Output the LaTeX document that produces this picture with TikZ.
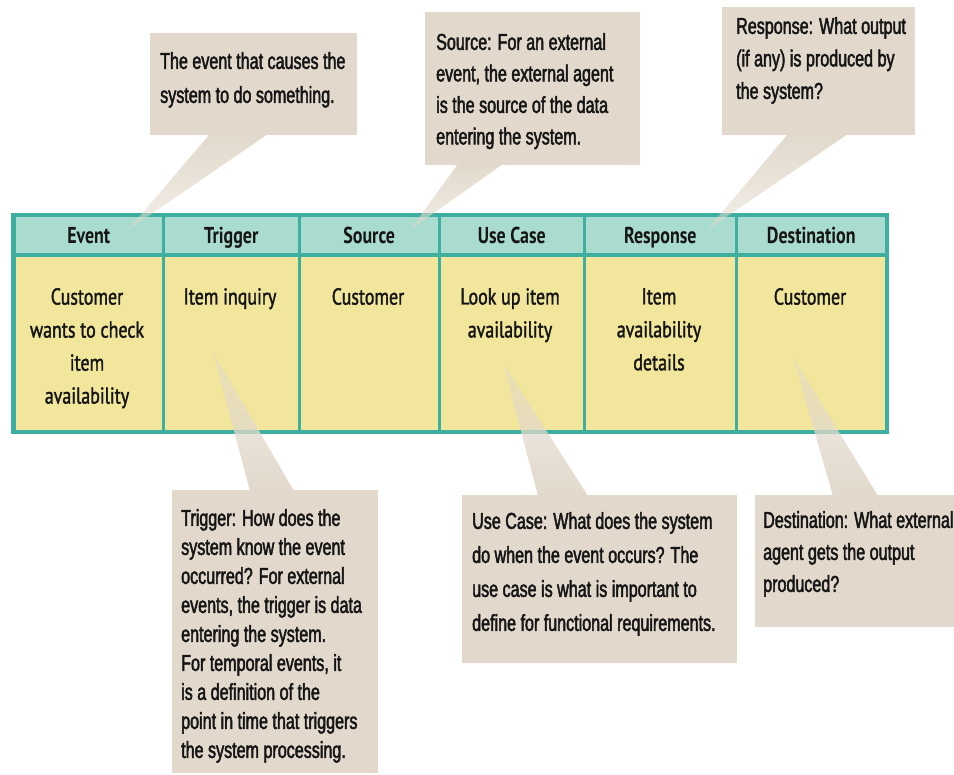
\documentclass[tikz,border=0pt]{standalone}
\usepackage{fontspec}
\setmainfont{Liberation Sans}
\newfontfamily\notefont[FakeStretch=0.70, FakeBold=2]{Liberation Sans}
\newfontfamily\cellfont[FakeStretch=0.78, FakeBold=1.5]{PT Sans}
\newfontfamily\headfont[FakeStretch=0.78]{PT Sans}
\usetikzlibrary{fadings}

\definecolor{notebg}{HTML}{E2D9CC}
\definecolor{headbg}{HTML}{A9DCCF}
\definecolor{rulecol}{HTML}{3DAE9F}
\definecolor{bodybg}{HTML}{F1E69C}
\definecolor{ink}{HTML}{151515}

\tikzfading[name=fadedown, top color=transparent!0, bottom color=transparent!55]
\tikzfading[name=fadeup, top color=transparent!55, bottom color=transparent!0]

\tikzset{
  notebox/.style={fill=notebg, inner sep=0pt, anchor=north west},
  notetext/.style={font=\notefont\fontsize{23}{#1}\selectfont, align=left,
    anchor=north west, inner sep=0pt, text=ink},
  headcell/.style={fill=headbg, draw=rulecol, line width=2.5pt, inner sep=0pt,
    anchor=north west, minimum height=38pt, text height=19pt, text depth=2pt,
    font=\headfont\bfseries\fontsize{23}{28}\selectfont, text=ink},
  bodycell/.style={fill=bodybg, draw=rulecol, line width=2.5pt, inner sep=0pt,
    anchor=north west, minimum height=177pt},
  celltext/.style={font=\cellfont\fontsize{23}{33}\selectfont, align=center,
    anchor=north, inner sep=0pt, text=ink},
  tailup/.style={fill=notebg, path fading=fadedown},
  taildown/.style={fill=notebg, path fading=fadeup},
}

\begin{document}
\begin{tikzpicture}[x=1pt, y=-1pt]
\useasboundingbox (0,0) rectangle (954,775);

% ---- the event table ----
\node[headcell, minimum width=149pt] (h1) at (13,215) {Event};
\node[headcell, minimum width=136pt] (h2) at (162,215) {Trigger};
\node[headcell, minimum width=140pt] (h3) at (298,215) {Source};
\node[headcell, minimum width=145pt] (h4) at (438,215) {Use Case};
\node[headcell, minimum width=152pt] (h5) at (583,215) {Response};
\node[headcell, minimum width=150pt] (h6) at (735,215) {Destination};

\node[bodycell, minimum width=149pt] (b1) at (13,253) {};
\node[bodycell, minimum width=136pt] (b2) at (162,253) {};
\node[bodycell, minimum width=140pt] (b3) at (298,253) {};
\node[bodycell, minimum width=145pt] (b4) at (438,253) {};
\node[bodycell, minimum width=152pt] (b5) at (583,253) {};
\node[bodycell, minimum width=150pt] (b6) at (735,253) {};

\draw[rulecol, line width=3.5pt] (h1.north west) rectangle (b6.south east);
\draw[rulecol, line width=3.5pt] (h1.south west) -- (h6.south east);

\node[celltext] (t1) at (87,288) {Customer\\wants to check\\item\\availability};
\node[celltext] (t2) at (230,288) {Item inquiry};
\node[celltext] (t3) at (368,288) {Customer};
\node[celltext] (t4) at (510,288) {Look up item\\availability};
\node[celltext] (t5) at (659,288) {Item\\availability\\details};
\node[celltext] (t6) at (810,288) {Customer};

% ---- tips of the callout tails ----
\coordinate (tipEvent) at (128,230);
\coordinate (tipSource) at (410,230);
\coordinate (tipResponse) at (707,230);
\coordinate (tipTrigger) at (213,352);
\coordinate (tipUseCase) at (503,363);
\coordinate (tipDest) at (793,357);

% ---- tails ----
\fill[tailup] (210,134) -- (268,134) -- (tipEvent) -- cycle;
\fill[tailup] (458,164) -- (503,164) -- (tipSource) -- cycle;
\fill[tailup] (788,134) -- (848,134) -- (tipResponse) -- cycle;
\fill[taildown] (tipTrigger) -- (250,491) -- (294,491) -- cycle;
\fill[taildown] (tipUseCase) -- (538,496) -- (588,496) -- cycle;
\fill[taildown] (tipDest) -- (833,496) -- (878,496) -- cycle;

% ---- callout boxes ----
\node[notebox, minimum width=207pt, minimum height=102pt] (nEvent) at (150,33) {};
\node[notebox, minimum width=215pt, minimum height=153pt] (nSource) at (425,12) {};
\node[notebox, minimum width=193pt, minimum height=128pt] (nResponse) at (722,7) {};
\node[notebox, minimum width=206pt, minimum height=283pt] (nTrigger) at (172,490) {};
\node[notebox, minimum width=275pt, minimum height=168pt] (nUseCase) at (462,495) {};
\node[notebox, minimum width=199pt, minimum height=132pt] (nDest) at (755,495) {};

% ---- callout texts ----
\node[notetext=34] (xEvent) at (160,52) {The event that causes the\\system to do something.};
\node[notetext=31.5] (xSource) at (436,33) {Source: For an external\\event, the external agent\\is the source of the data\\entering the system.};
\node[notetext=32.5] (xResponse) at (736,17) {Response: What output\\(if any) is produced by\\the system?};
\node[notetext=29] (xTrigger) at (181,509) {Trigger: How does the\\system know the event\\occurred? For external\\events, the trigger is data\\entering the system.\\For temporal events, it\\is a definition of the\\point in time that triggers\\the system processing.};
\node[notetext=34] (xUseCase) at (472,512) {Use Case: What does the system\\do when the event occurs? The\\use case is what is important to\\define for functional requirements.};
\node[notetext=32] (xDest) at (763,511) {Destination: What external\\agent gets the output\\produced?};
\end{tikzpicture}
\end{document}
